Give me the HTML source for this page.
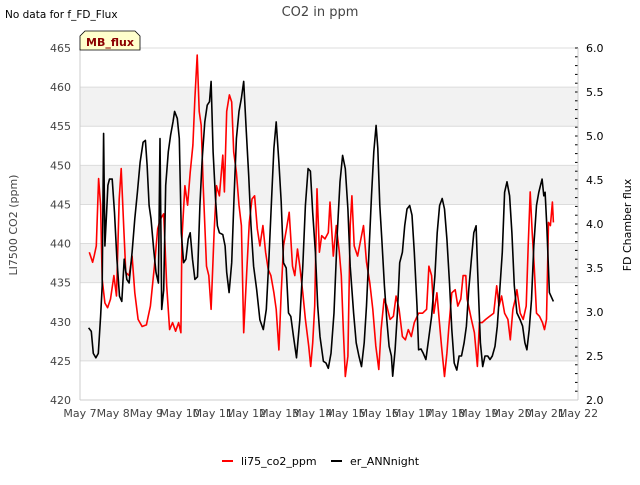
<!DOCTYPE html>
<html><head><meta charset="utf-8"><style>
body{margin:0;background:#fff;font-family:"Liberation Sans","DejaVu Sans",sans-serif}
svg text{font-family:"DejaVu Sans","Liberation Sans",sans-serif}
</style></head><body>
<svg id="chart" width="640" height="480" viewBox="0 0 640 480" xmlns="http://www.w3.org/2000/svg">
<text x="5" y="18" font-size="10.5" fill="#000">No data for f_FD_Flux</text>
<text x="320" y="16" font-size="13" fill="#444" text-anchor="middle">CO2 in ppm</text>
<g id="plot"></g>
<g>
<path d="M80,50 L80,36 L85,31 L135,31 L140,36 L140,50 Z" fill="#ffffcc" stroke="#000" stroke-width="0.8"/>
<text x="110" y="46" font-size="11" font-weight="bold" fill="#8b0000" text-anchor="middle">MB_flux</text>
</g>
<text transform="translate(17,225) rotate(-90)" font-size="11" fill="#444" text-anchor="middle">LI7500 CO2 (ppm)</text>
<text transform="translate(631,225) rotate(-90)" font-size="11" fill="#000" text-anchor="middle">FD Chamber flux</text>
<g>
<g><line x1="222" y1="461" x2="233" y2="461" stroke="#ff0000" stroke-width="2"/><text x="241" y="465" font-size="11" fill="#000">li75_co2_ppm</text></g>
<g><line x1="331" y1="461" x2="342" y2="461" stroke="#000" stroke-width="2"/><text x="350" y="465" font-size="11" fill="#000">er_ANNnight</text></g>
</g>
</svg>
<script>
const xTickLabels=["May 7","May 8","May 9","May 10","May 11","May 12","May 13","May 14","May 15","May 16","May 17","May 18","May 19","May 20","May 21","May 22"];
const leftTicks=[420,425,430,435,440,445,450,455,460,465];
const rightTicks=[2.0,2.5,3.0,3.5,4.0,4.5,5.0,5.5,6.0];
const redDays=[0.28,0.38,0.43,0.49,0.56,0.62,0.67,0.75,0.83,0.92,1.02,1.10,1.18,1.24,1.32,1.38,1.48,1.57,1.65,1.75,1.87,2.00,2.12,2.24,2.34,2.42,2.52,2.61,2.70,2.79,2.88,2.97,3.04,3.07,3.16,3.24,3.32,3.40,3.46,3.53,3.59,3.65,3.71,3.81,3.88,3.95,4.04,4.11,4.20,4.30,4.35,4.42,4.50,4.57,4.63,4.71,4.79,4.86,4.93,5.02,5.10,5.18,5.26,5.34,5.42,5.51,5.59,5.67,5.75,5.84,5.91,5.99,6.06,6.13,6.22,6.30,6.40,6.47,6.55,6.62,6.71,6.79,6.89,6.95,7.01,7.07,7.14,7.21,7.28,7.38,7.48,7.53,7.63,7.72,7.81,7.87,7.93,7.99,8.07,8.14,8.19,8.26,8.36,8.46,8.54,8.63,8.73,8.82,8.91,9.00,9.07,9.16,9.24,9.34,9.44,9.52,9.61,9.71,9.80,9.89,9.98,10.07,10.20,10.32,10.44,10.51,10.59,10.66,10.75,10.81,10.89,10.98,11.05,11.11,11.20,11.30,11.38,11.47,11.54,11.62,11.66,11.79,11.88,11.97,12.03,12.11,12.22,12.34,12.46,12.55,12.62,12.70,12.79,12.89,12.96,13.04,13.11,13.16,13.26,13.35,13.44,13.50,13.56,13.62,13.68,13.75,13.84,13.93,13.99,14.05,14.11,14.17,14.23,14.26];
const redValues=[438.9,437.6,438.5,439.7,448.3,444.9,435.4,432.4,431.8,432.9,435.9,433.3,445.7,449.6,441.9,436.3,435.9,438.4,433.7,430.3,429.4,429.6,432,437.1,441.9,443.1,443.8,434.6,429,429.9,428.8,429.9,428.6,440.6,447.4,444.9,449.1,452.6,458.6,464.1,456.9,455.1,447.4,437.1,435.9,431.6,441.4,447.4,446.1,451.3,446.6,456.9,459,458.1,451.7,449.1,444.9,442.3,428.6,436.3,442.7,445.7,446.1,441.9,439.7,442.3,438.9,436.7,435.9,433.7,431.6,426.4,433.7,439.7,441.9,444,437.1,435.9,439.3,437.1,433.7,430.3,426.9,424.3,427.3,432,447,438.9,441,440.6,441.4,445.3,438.4,442.3,438.9,435.9,429,423,425.6,442.3,446.1,439.7,438.4,440.6,442.3,437.6,435,431.6,426.9,423.9,429,432.9,432,430.3,430.7,433.3,431.6,428.1,427.7,429,428.1,429.9,431.1,431.1,431.6,437.1,435.9,431.1,433.7,430.7,426.9,423,426,429.4,433.7,434.1,432,432.9,435.9,435.9,432.9,430.3,428.6,424.3,429.9,429.9,430.3,430.7,431.1,434.6,432,433.3,431.1,430.3,427.7,431.6,432.9,434.1,431.1,430.3,432,439.7,446.6,441.4,437.1,431.1,430.7,429.9,429,430.3,442.7,442.3,445.3,442.7];
const blackDays=[0.26,0.34,0.40,0.48,0.55,0.62,0.67,0.71,0.75,0.80,0.84,0.89,0.97,1.04,1.11,1.19,1.26,1.33,1.41,1.48,1.57,1.65,1.73,1.81,1.90,1.97,2.02,2.08,2.14,2.22,2.29,2.36,2.41,2.46,2.52,2.58,2.66,2.73,2.80,2.85,2.93,2.99,3.05,3.12,3.19,3.26,3.32,3.39,3.46,3.54,3.61,3.68,3.76,3.83,3.90,3.95,4.01,4.08,4.14,4.20,4.30,4.37,4.42,4.49,4.57,4.64,4.71,4.79,4.86,4.93,5.01,5.08,5.15,5.23,5.32,5.42,5.52,5.61,5.69,5.77,5.84,5.91,5.99,6.06,6.13,6.21,6.28,6.35,6.43,6.52,6.62,6.71,6.79,6.87,6.94,7.01,7.09,7.16,7.23,7.33,7.41,7.48,7.56,7.65,7.75,7.83,7.91,7.99,8.07,8.14,8.24,8.32,8.40,8.48,8.56,8.63,8.70,8.78,8.85,8.92,8.97,9.03,9.09,9.17,9.24,9.31,9.38,9.42,9.49,9.56,9.63,9.71,9.78,9.85,9.93,10.00,10.07,10.15,10.20,10.27,10.34,10.42,10.50,10.59,10.69,10.76,10.83,10.91,10.98,11.05,11.13,11.20,11.27,11.35,11.42,11.49,11.57,11.64,11.71,11.79,11.86,11.93,11.98,12.06,12.13,12.20,12.28,12.35,12.42,12.50,12.57,12.64,12.72,12.79,12.86,12.94,13.01,13.08,13.16,13.26,13.33,13.40,13.46,13.53,13.60,13.67,13.75,13.82,13.87,13.92,13.97,14.01,14.06,14.14,14.21,14.26];
const blackValues=[2.82,2.78,2.53,2.48,2.53,2.95,3.3,5.03,3.75,4.13,4.44,4.51,4.51,4.13,3.6,3.18,3.12,3.6,3.37,3.33,3.68,4.06,4.36,4.7,4.93,4.95,4.67,4.21,4.06,3.71,3.45,3.33,4.97,3.03,3.25,4.44,4.82,5.01,5.16,5.28,5.2,4.97,3.9,3.56,3.6,3.83,3.9,3.6,3.37,3.4,4.21,4.74,5.16,5.35,5.39,5.62,4.82,4.29,3.98,3.9,3.88,3.75,3.45,3.22,3.56,4.29,4.97,5.28,5.43,5.62,5.05,4.55,3.98,3.52,3.26,2.91,2.8,3.03,3.6,4.29,4.86,5.16,4.7,4.25,3.56,3.5,2.99,2.95,2.72,2.48,2.91,3.52,4.21,4.63,4.6,4.13,3.68,3.07,2.72,2.44,2.42,2.36,2.53,2.99,3.9,4.48,4.78,4.63,4.17,3.52,2.99,2.65,2.5,2.38,2.65,3.07,3.64,4.32,4.82,5.12,4.86,4.21,3.83,3.3,2.91,2.61,2.5,2.27,2.57,2.99,3.56,3.68,3.98,4.17,4.21,4.1,3.68,3.07,2.57,2.58,2.53,2.46,2.69,2.95,3.41,3.9,4.21,4.29,4.17,3.83,3.33,2.8,2.42,2.34,2.5,2.5,2.65,2.84,3.26,3.6,3.9,3.98,3.45,2.65,2.38,2.5,2.5,2.46,2.5,2.61,2.84,3.22,3.68,4.36,4.48,4.32,3.9,3.3,2.99,2.91,2.84,2.65,2.57,2.8,3.14,3.75,4.21,4.36,4.44,4.51,4.32,4.36,3.98,3.22,3.16,3.12];

const L=80,R=578,T=48,B=400,NS="http://www.w3.org/2000/svg";
const xS=d=>L+(d/15)*(R-L);
const yL=v=>B-(v-420)/45*(B-T);
const yR=v=>B-(v-2)/4*(B-T);
const plot=document.getElementById('plot');
function mk(tag,attrs){const e=document.createElementNS(NS,tag);for(const k in attrs)e.setAttribute(k,attrs[k]);return e;}
// bands
for(let lo=425;lo<465;lo+=10){
 const band=mk('rect',{x:L,y:yL(lo+5),width:R-L,height:yL(lo)-yL(lo+5),fill:'#f2f2f2'});
 
 
 plot.appendChild(band);
}
leftTicks.forEach(v=>{
 const g=mk('line',{x1:L,x2:R,y1:yL(v),y2:yL(v),stroke:'#dcdcdc','stroke-width':1});
 
 
 plot.appendChild(g);
 const t=mk('text',{x:L-9,y:yL(v)+4,'font-size':11,fill:'#444','text-anchor':'end'});
 
 
 t.textContent=v;plot.appendChild(t);
});
rightTicks.forEach(v=>{
 const t=mk('text',{x:R+8,y:yR(v)+4,'font-size':11,fill:'#000'});
 
 
 t.textContent=v.toFixed(1);plot.appendChild(t);
});
for(let v=2;v<=6.001;v+=0.1){
 const tk=mk('line',{x1:R,x2:R-3,y1:yR(v),y2:yR(v),stroke:'#000','stroke-width':1});
 
 
 plot.appendChild(tk);
}
xTickLabels.forEach((s,i)=>{
 const t=mk('text',{x:xS(i),y:417,'font-size':11,fill:'#444','text-anchor':'middle'});
 
 
 t.textContent=s;plot.appendChild(t);
});
const frameL=mk('line',{x1:L,x2:L,y1:T,y2:B,stroke:'#ccc'});plot.appendChild(frameL);
const frameR=mk('line',{x1:R,x2:R,y1:T,y2:B,stroke:'#ccc'});plot.appendChild(frameR);
const frameB=mk('line',{x1:L,x2:R,y1:B,y2:B,stroke:'#ccc'});plot.appendChild(frameB);
function series(days,vals,ys,color,name){
 const n=Math.min(days.length,vals.length);
 let d='';for(let i=0;i<n;i++)d+=(i?'L':'M')+xS(days[i]).toFixed(1)+','+ys(vals[i]).toFixed(1);
 const p=mk('path',{d:d,fill:'none',stroke:color,'stroke-width':1.6,'stroke-linejoin':'round'});
 
 
 plot.appendChild(p);
}
series(redDays,redValues,yL,'#ff0000','li75-co2-line');
series(blackDays,blackValues,yR,'#000000','er-annnight-line');
</script>
</body></html>
